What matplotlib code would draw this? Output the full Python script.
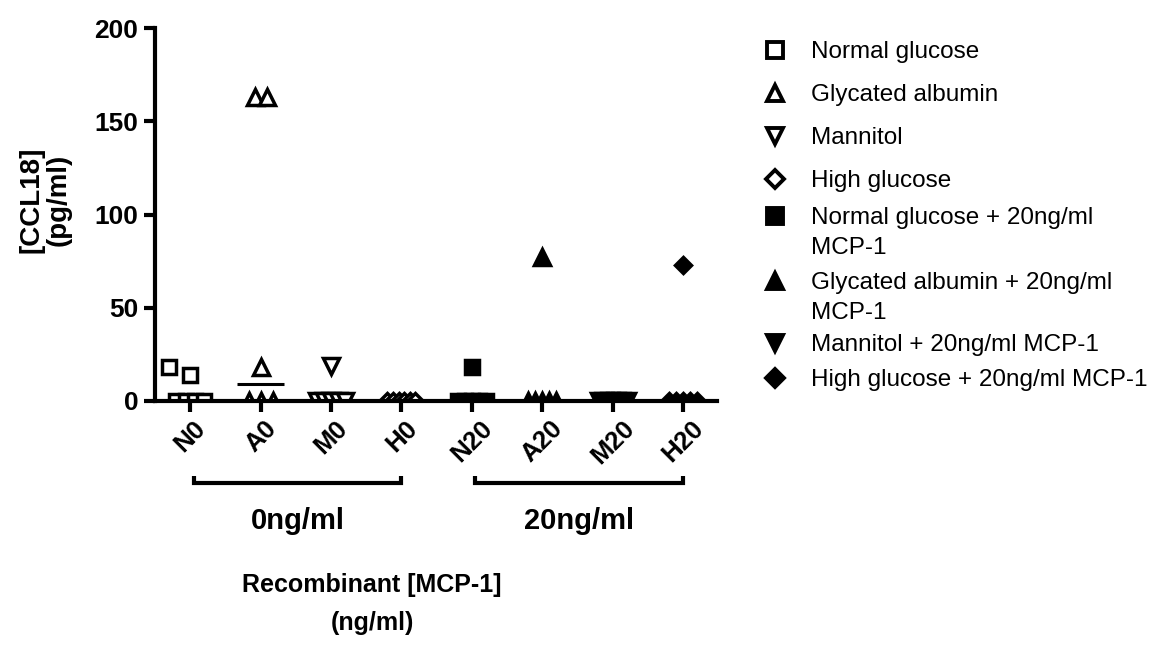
import matplotlib
matplotlib.use("Agg")
import matplotlib.pyplot as plt
import numpy as np
from matplotlib.lines import Line2D
from matplotlib.transforms import blended_transform_factory

# ---- data -------------------------------------------------------------
groups = ["N0", "A0", "M0", "H0", "N20", "A20", "M20", "H20"]
series_labels = [
    "Normal glucose",
    "Glycated albumin",
    "Mannitol",
    "High glucose",
    "Normal glucose + 20ng/ml\nMCP-1",
    "Glycated albumin + 20ng/ml\nMCP-1",
    "Mannitol + 20ng/ml MCP-1",
    "High glucose + 20ng/ml MCP-1",
]
normal_glucose = [18, 14, 0, 0, 0, 0]
glycated_albumin = [163, 163, 18, 0, 0, 0]
mannitol = [19, 0, 0, 0, 0, 0]
high_glucose = [0, 0, 0, 0, 0, 0]
normal_glucose_mcp = [18, 0, 0, 0, 0, 0]
glycated_albumin_mcp = [77, 0, 0, 0, 0, 0]
mannitol_mcp = [0, 0, 0, 0, 0, 0]
high_glucose_mcp = [73, 0, 0, 0, 0, 0]
dose_labels = ["0ng/ml", "20ng/ml"]
dose_groups = [(0, 3), (4, 7)]
y_ticks = [0, 50, 100, 150, 200]

series = [normal_glucose, glycated_albumin, mannitol, high_glucose,
          normal_glucose_mcp, glycated_albumin_mcp, mannitol_mcp, high_glucose_mcp]

# ---- styles -----------------------------------------------------------
shapes = ["s", "^", "v", "D", "s", "^", "v", "D"]
filled = [False] * 4 + [True] * 4
sizes = {"s": 10.0, "^": 11.0, "v": 11.0, "D": 8.0}
MEW = 2.5

FONT = "Liberation Sans"
plt.rcParams["font.family"] = [FONT, "DejaVu Sans"]

W, H = 1149, 660
fig = plt.figure(figsize=(W / 100, H / 100), dpi=100)

# axes box in pixels
ax_l, ax_r, ax_b, ax_t = 155, 717, 401, 28
ax = fig.add_axes([ax_l / W, 1 - ax_b / H, (ax_r - ax_l) / W, (ax_b - ax_t) / H])
xmin, xmax = -0.5, 7.48
ax.set_xlim(xmin, xmax)
ax.set_ylim(0, 200)

px_per_x = (ax_r - ax_l) / (xmax - xmin)
px_per_y = (ax_b - ax_t) / 200.0


def swarm_offsets(values, marker_px):
    """Spread tied / overlapping points horizontally (returns data-unit offsets)."""
    vals = np.asarray(values, dtype=float)
    offs = np.zeros(len(vals))
    placed = []
    for v in sorted(set(vals)):
        idx = np.where(vals == v)[0]
        n = len(idx)
        step = min(12.0, 28.0 / (n - 1)) if n > 1 else 0.0
        base = (np.arange(n) - (n - 1) / 2) * step
        ypx = v * px_per_y
        shift = 0.0

        def collides(s):
            return any(abs(ypx - py) < marker_px and abs(b + s - px) < marker_px
                       for b in base for px, py in placed)

        while collides(shift):
            shift -= 1.6 * marker_px
        for i, b in zip(idx, base):
            offs[i] = (b + shift) / px_per_x
            placed.append((b + shift, ypx))
    return offs


for gi, (vals, mk, fl) in enumerate(zip(series, shapes, filled)):
    ms = sizes[mk]
    marker_px = (ms + MEW) * 100 / 72 * (0.75 if mk == "s" else 1.0)
    xs = gi + swarm_offsets(vals, marker_px)
    ax.plot(xs, vals, linestyle="none", marker=mk, markersize=ms,
            markeredgewidth=MEW, markeredgecolor="black",
            markerfacecolor="black" if fl else "white", zorder=3)
    med = np.median(vals)
    ax.plot([gi - 0.33, gi + 0.33], [med, med], color="black", lw=2.2,
            solid_capstyle="butt", zorder=2)

# ---- axes styling -----------------------------------------------------
for side in ("top", "right"):
    ax.spines[side].set_visible(False)
for side in ("left", "bottom"):
    ax.spines[side].set_linewidth(3)
    ax.spines[side].set_zorder(4)

ax.set_yticks(y_ticks)
ax.set_yticklabels([str(t) for t in y_ticks], fontsize=19, fontweight="bold")
ax.set_xticks(range(len(groups)))
ax.set_xticklabels(groups, fontsize=18.5, fontweight="bold", rotation=45,
                   ha="center", va="top")
ax.tick_params(axis="both", direction="out", length=8, width=3, color="black")
ax.tick_params(axis="x", pad=3)
ax.tick_params(axis="y", pad=4)

# group brackets under the tick labels
trans = blended_transform_factory(ax.transData, fig.transFigure)
y_br = 1 - 483 / H
cap = 7 / H
for (g0, g1), lab in zip(dose_groups, dose_labels):
    x0, x1 = g0 + 0.05, g1
    ax.plot([x0, x0, x1, x1], [y_br + cap, y_br, y_br, y_br + cap],
            transform=trans, clip_on=False, color="black", lw=3,
            solid_joinstyle="miter", solid_capstyle="butt")
    ax.text((x0 + x1) / 2, 1 - 521 / H, lab, transform=trans,
            ha="center", va="center", fontsize=21, fontweight="bold")

# axis titles
fig.text(372 / W, 1 - 604 / H, "Recombinant [MCP-1]\n(ng/ml)", ha="center",
         va="center", fontsize=18, fontweight="bold", linespacing=1.75,
         multialignment="center")
fig.text(45 / W, 1 - 200 / H, "[CCL18]\n(pg/ml)", ha="center", va="center",
         rotation=90, fontsize=20, fontweight="bold", linespacing=1.05,
         multialignment="center")

# ---- legend -----------------------------------------------------------
row_y = [52, 95, 138, 181, 218, 283, 345, 380]
for lab, mk, fl, y in zip(series_labels, shapes, filled, row_y):
    fig.add_artist(Line2D([775 / W], [1 - (y - 2) / H], transform=fig.transFigure,
                          linestyle="none", marker=mk, markersize=sizes[mk] * 1.1,
                          markeredgewidth=MEW + 0.3, markeredgecolor="black",
                          markerfacecolor="black" if fl else "white"))
    for k, line in enumerate(lab.split("\n")):
        fig.text(811 / W, 1 - (y + 30 * k) / H, line, ha="left", va="center",
                 fontsize=17.5)

fig.savefig("out.png", dpi=100)
